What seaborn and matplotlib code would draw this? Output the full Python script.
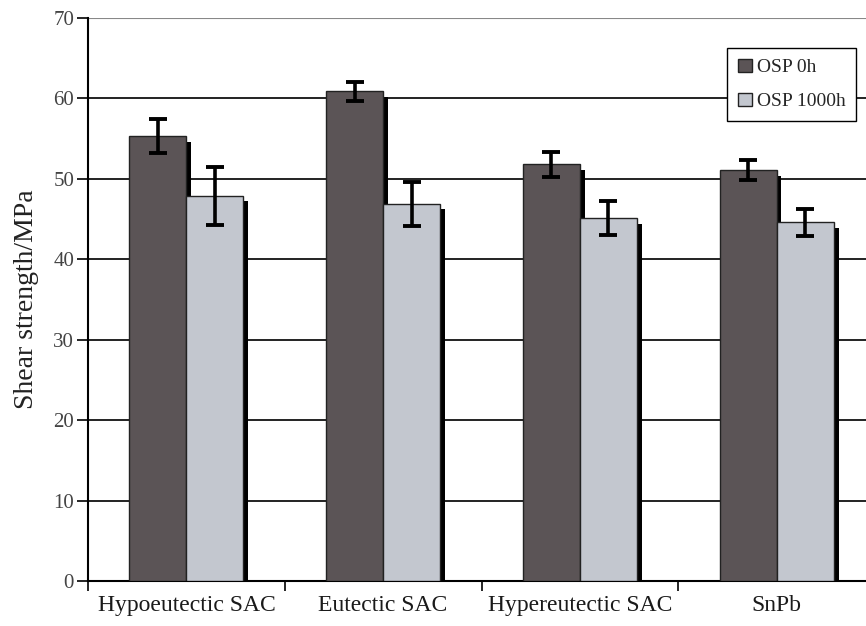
import matplotlib
matplotlib.use("Agg")
import matplotlib.pyplot as plt
import matplotlib.patheffects as pe
import seaborn as sns
import pandas as pd
import numpy as np

categories = ["Hypoeutectic SAC", "Eutectic SAC", "Hypereutectic SAC", "SnPb"]
series = ["OSP 0h", "OSP 1000h"]
osp_0h = [55.3, 60.9, 51.8, 51.1]
osp_0h_err = [2.1, 1.2, 1.6, 1.3]
osp_1000h = [47.9, 46.9, 45.1, 44.6]
osp_1000h_err = [3.6, 2.7, 2.1, 1.7]
yticks = [0, 10, 20, 30, 40, 50, 60, 70]

df = pd.DataFrame({
    "cat": categories * 2,
    "series": [series[0]] * 4 + [series[1]] * 4,
    "val": osp_0h + osp_1000h,
})
errs = osp_0h_err + osp_1000h_err

sns.set_theme(style="white")
plt.rcParams["font.family"] = ["Liberation Serif", "DejaVu Serif"]

fig = plt.figure(figsize=(8.66, 6.26), dpi=100)
ax = fig.add_axes([88 / 866, 45 / 626, 787 / 866, 563 / 626])

palette = {"OSP 0h": "#5b5456", "OSP 1000h": "#c3c7cf"}
sns.barplot(data=df, x="cat", y="val", hue="series", order=categories,
            hue_order=series, palette=palette, width=0.58, ax=ax,
            edgecolor="#222222", linewidth=1.0, saturation=1, zorder=3,
            legend=True)

shadow = [pe.SimplePatchShadow(offset=(3.5, -4), shadow_rgbFace="black", alpha=1.0), pe.Normal()]
bars = []
for cont in ax.containers:
    bars.extend(list(cont))
for p, e in zip(bars, errs):
    p.set_path_effects(shadow)
    cx = p.get_x() + p.get_width() / 2
    ax.errorbar(cx, p.get_height(), yerr=e, fmt="none", ecolor="black",
                elinewidth=2.6, capsize=6.5, capthick=2.8, zorder=5)

ax.set_ylim(0, 70)
ax.set_xlim(-0.5, 3.5)
ax.set_yticks(yticks)
ax.set_yticklabels([str(t) for t in yticks], fontsize=15, color="#444444")
ax.yaxis.grid(True, color="#222222", linewidth=1.4, zorder=0)
gl = ax.get_ygridlines()
gl[-1].set_color("#888888")
gl[-1].set_linewidth(0.8)
ax.set_axisbelow(True)
ax.tick_params(axis="y", which="major", left=True, direction="out", length=8,
               width=1.2, color="black", pad=2)
ax.set_xticks(range(len(categories)))
ax.set_xticklabels(categories, fontsize=17, color="#1a1a1a")
ax.set_xticks(np.arange(-0.5, 4.0, 1.0), minor=True)
ax.tick_params(axis="x", which="major", length=0, pad=10)
ax.tick_params(axis="x", which="minor", bottom=True, direction="out", length=7,
               width=1.2, color="black")
ax.set_xlabel("")
ax.set_ylabel("Shear strength/MPa", fontsize=20, color="#222222", labelpad=10)

for s in ["top", "right"]:
    ax.spines[s].set_visible(False)
ax.spines["left"].set_color("black")
ax.spines["left"].set_linewidth(1.5)
ax.spines["bottom"].set_color("black")
ax.spines["bottom"].set_linewidth(1.5)

leg = ax.legend(loc="upper right", bbox_to_anchor=(856 / 866, 1 - 48 / 626),
                bbox_transform=fig.transFigure, frameon=True, fancybox=False,
                fontsize=14, handlelength=0.7, handleheight=0.7,
                handletextpad=0.25, borderpad=0.55, labelspacing=0.85,
                borderaxespad=0, edgecolor="black", framealpha=1)
leg.get_frame().set_linewidth(1.0)
leg.set_zorder(10)

fig.savefig("out.png", dpi=100)
